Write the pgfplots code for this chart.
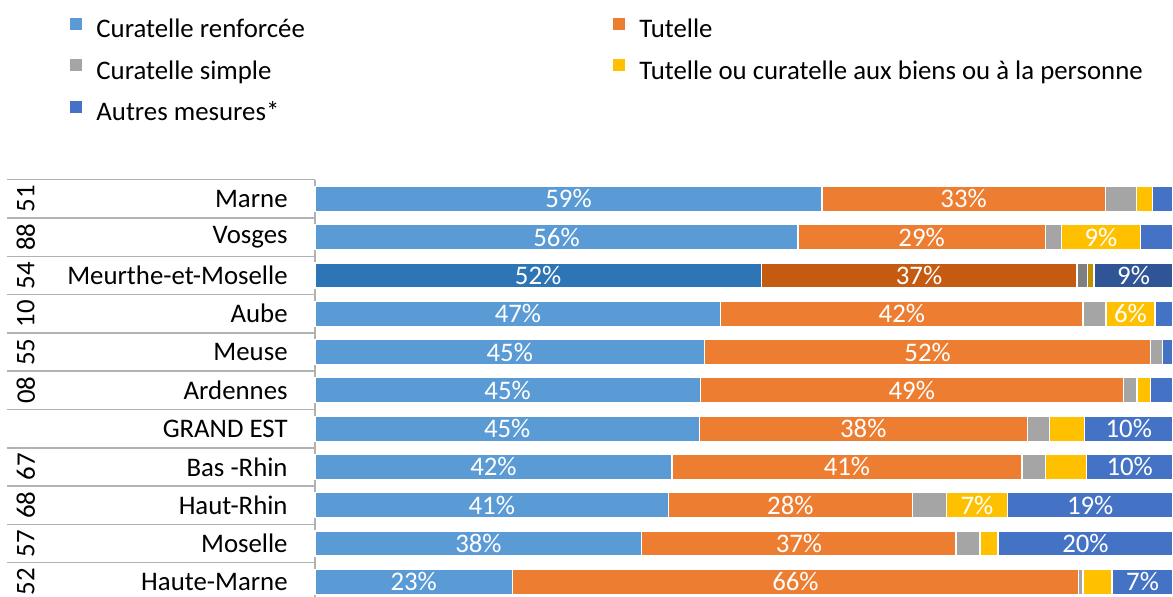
\documentclass[border=0pt]{standalone}
\usepackage{fontspec}
\setmainfont{Carlito}
\usepackage{pgfplots}
\usepackage{pgfplotstable}
\pgfplotsset{compat=1.18}

\definecolor{cCR}{HTML}{5B9BD5}
\definecolor{cT}{HTML}{ED7D31}
\definecolor{cCS}{HTML}{A5A5A5}
\definecolor{cTC}{HTML}{FFC000}
\definecolor{cAM}{HTML}{4472C4}
\definecolor{dCR}{HTML}{2E75B6}
\definecolor{dT}{HTML}{C55A11}
\definecolor{dCS}{HTML}{7F7F7F}
\definecolor{dTC}{HTML}{BF9000}
\definecolor{dAM}{HTML}{2F5597}

% shares in %, one row per departement (row 2 = Meurthe-et-Moselle, highlighted)
\pgfplotstableread{
row CR T CS TC AM
0 59.1 33.0 3.6 1.9 2.4
1 56.3 28.8 1.9 9.2 3.8
2 0 0 0 0 0
3 47.3 42.2 2.7 5.7 2.1
4 45.4 52.0 1.4 0 1.2
5 44.9 49.3 1.6 1.6 2.6
6 44.8 38.2 2.6 4.1 10.3
7 41.6 40.8 2.7 4.8 10.1
8 41.2 28.4 4.0 7.1 19.3
9 38.1 36.6 2.8 2.1 20.4
10 23.0 66.0 0.5 3.4 7.1
}\normal
\pgfplotstableread{
row CR T CS TC AM
0 0 0 0 0 0
1 0 0 0 0 0
2 52.0 36.8 1.2 0.8 9.2
3 0 0 0 0 0
4 0 0 0 0 0
5 0 0 0 0 0
6 0 0 0 0 0
7 0 0 0 0 0
8 0 0 0 0 0
9 0 0 0 0 0
10 0 0 0 0 0
}\dark

\newcommand{\fs}{\fontsize{13.4}{16}\selectfont}

\begin{document}
\begin{tikzpicture}
\begin{axis}[
  at={(0,0)}, anchor=south west,
  scale only axis, width=429pt, height=210.65pt,
  xbar stacked, bar width=12.5pt,
  xmin=0, xmax=100, ymin=-0.5, ymax=10.5, y dir=reverse,
  enlargelimits=false,
  hide x axis,
  axis y line*=left,
  y axis line style={draw=gray!60, line width=0.75pt},
  ytick={0,...,10},
  yticklabels={Marne,Vosges,Meurthe-et-Moselle,Aube,Meuse,Ardennes,GRAND EST,Bas -Rhin,Haut-Rhin,Moselle,Haute-Marne},
  major tick length=0pt,
  yticklabel style={font=\fs, anchor=east, inner sep=0pt, xshift=-13.5pt},
  clip=false,
  every axis plot/.append style={draw=white, line width=0.6pt},
  point meta=explicit,
  nodes near coords={\pgfmathfloattofixed{\pgfplotspointmeta}%
    \ifdim\pgfmathresult pt<5pt\else\pgfmathprintnumber[fixed,precision=0,assume math mode=true]{\pgfplotspointmeta}\%\fi},
  every node near coord/.append style={anchor=center, text=white, font=\fs},
  legend columns=2,
  legend cell align=left,
  legend style={at={(axis description cs:-0.2855,1.384)}, anchor=north west,
    draw=none, fill=none, inner sep=0pt, column sep=7pt, row sep=7.75pt, font=\fs,
    nodes={inner sep=0pt, text height=9pt, text depth=3pt}},
  legend image code/.code={\fill[#1,draw=none] (0pt,0.8pt) rectangle (6pt,6.8pt);},
]
\addplot[fill=cCR] table[x=CR, y=row, meta=CR]{\normal};
\addlegendentry{\makebox[251.5pt][l]{Curatelle renforcée}}
\addplot[fill=dCR, forget plot] table[x=CR, y=row, meta=CR]{\dark};
\addplot[fill=cT] table[x=T, y=row, meta=T]{\normal};
\addlegendentry{Tutelle}
\addplot[fill=dT, forget plot] table[x=T, y=row, meta=T]{\dark};
\addplot[fill=cCS] table[x=CS, y=row, meta=CS]{\normal};
\addlegendentry{Curatelle simple}
\addplot[fill=dCS, forget plot] table[x=CS, y=row, meta=CS]{\dark};
\addplot[fill=cTC] table[x=TC, y=row, meta=TC]{\normal};
\addlegendentry{Tutelle ou curatelle aux biens ou à la personne}
\addplot[fill=dTC, forget plot] table[x=TC, y=row, meta=TC]{\dark};
\addplot[fill=cAM] table[x=AM, y=row, meta=AM]{\normal};
\addlegendentry{Autres mesures*}
\addplot[fill=dAM, forget plot] table[x=AM, y=row, meta=AM]{\dark};

\pgfplotsinvokeforeach{-0.5,0.5,1.5,2.5,3.5,4.5,5.5,6.5,7.5,8.5,9.5}{
  \draw[gray!60, line width=0.75pt] (axis cs:-35.9,#1) -- (axis cs:0,#1);
}
\node[rotate=90, font=\fs] at (axis cs:-33.7,0) {51};
\node[rotate=90, font=\fs] at (axis cs:-33.7,1) {88};
\node[rotate=90, font=\fs] at (axis cs:-33.7,2) {54};
\node[rotate=90, font=\fs] at (axis cs:-33.7,3) {10};
\node[rotate=90, font=\fs] at (axis cs:-33.7,4) {55};
\node[rotate=90, font=\fs] at (axis cs:-33.7,5) {08};
\node[rotate=90, font=\fs] at (axis cs:-33.7,7) {67};
\node[rotate=90, font=\fs] at (axis cs:-33.7,8) {68};
\node[rotate=90, font=\fs] at (axis cs:-33.7,9) {57};
\node[rotate=90, font=\fs] at (axis cs:-33.7,10) {52};
\end{axis}
\pgfresetboundingbox
\useasboundingbox (-157.5pt,2pt) rectangle (429pt,300.5pt);
\end{tikzpicture}
\end{document}
